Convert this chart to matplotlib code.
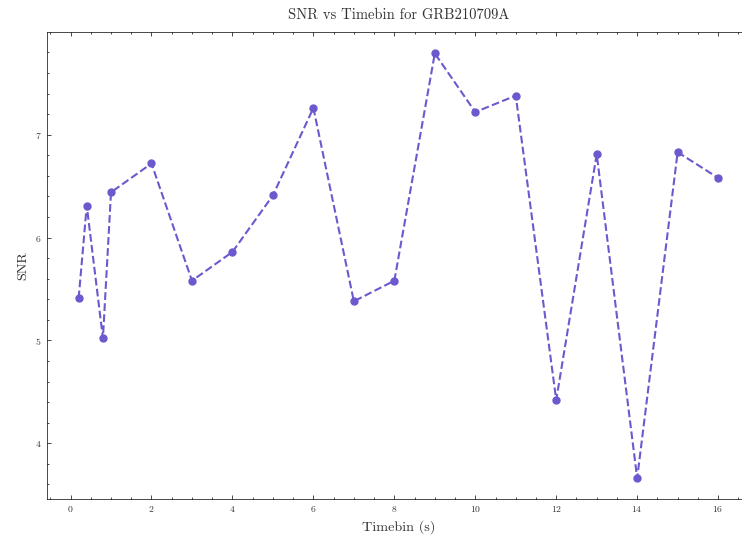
import numpy as np
import matplotlib
matplotlib.use("Agg")
import matplotlib.pyplot as plt
from matplotlib.ticker import MultipleLocator

# timebins (s) and the SNR found in each
timebin = [0.2, 0.4, 0.8, 1, 2, 3, 4, 5, 6, 7, 8, 9, 10, 11, 12, 13, 14, 15, 16]
snr = [5.41, 6.31, 5.02, 6.44, 6.72, 5.58, 5.86, 6.41, 7.26, 5.38, 5.58,
       7.79, 7.22, 7.38, 4.42, 6.81, 3.66, 6.83, 6.58]

plt.rcParams['font.family'] = 'serif'
plt.rcParams['font.serif'] = ['cmr10']
plt.rcParams['mathtext.fontset'] = 'cm'
plt.rcParams['axes.formatter.use_mathtext'] = True
plt.rcParams['axes.unicode_minus'] = False

fig = plt.figure(figsize=(7.42, 5.37), dpi=100)
ax = fig.add_axes([0.0629, 0.070, 0.948, 0.870])

ax.plot(timebin, snr, '--o', color='slateblue', lw=1.5, ms=5)

ax.set_title('SNR vs Timebin for GRB210709A', fontsize=10.5, color='#333333', pad=9.5)
ax.set_xlabel('Timebin (s)', fontsize=10.2, color='#333333')
ax.set_ylabel('SNR', fontsize=10.2, color='#333333')

ax.xaxis.set_major_locator(MultipleLocator(2))
ax.xaxis.set_minor_locator(MultipleLocator(0.5))
ax.yaxis.set_major_locator(MultipleLocator(1))
ax.yaxis.set_minor_locator(MultipleLocator(0.2))
ax.tick_params(which='both', direction='in', top=True, right=True, labelsize=7,
               labelcolor='#333333')
ax.tick_params(which='major', length=3, width=0.5)
ax.tick_params(which='minor', length=1.5, width=0.5)
for s in ax.spines.values():
    s.set_linewidth(0.5)

fig.savefig('out.png', dpi=100)
